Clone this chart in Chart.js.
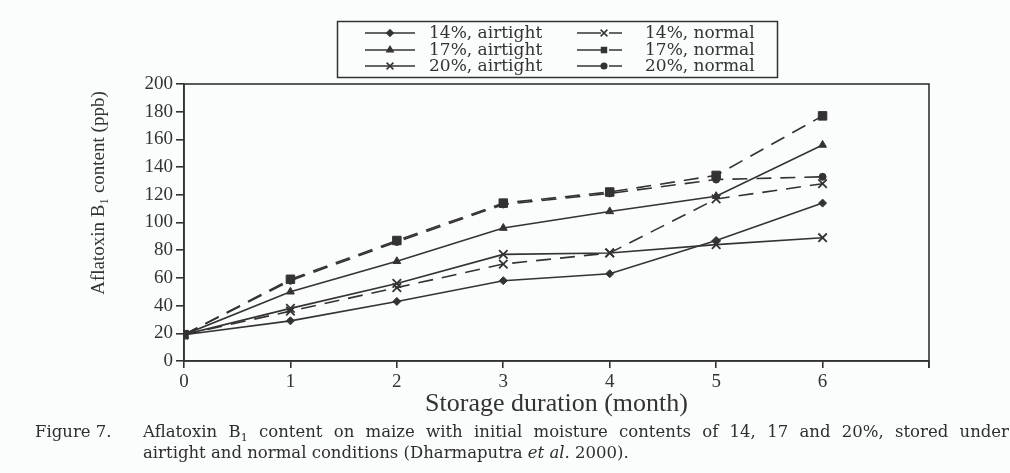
<!DOCTYPE html>
<html>
<head>
<meta charset="utf-8">
<script src="https://cdn.jsdelivr.net/npm/chart.js@4"></script>
<style>
  html, body { margin: 0; padding: 0; background: #fbfcfc; }
  #wrap { position: relative; width: 1010px; height: 473px; overflow: hidden; }
  #caption {
    position: absolute; left: 35px; top: 421px; width: 1100px;
    font-family: 'DejaVu Serif', serif; font-size: 16.5px; line-height: 21px; color: #2e2e2e;
    white-space: nowrap;
  }
  #caption .lbl { display: inline-block; width: 108px; }
  #caption .just { display: inline-block; width: 866px; text-align: justify; text-align-last: justify; }
  #caption .l2 { padding-left: 108px; }
  #caption sub { font-size: 11px; vertical-align: baseline; position: relative; top: 4px; line-height: 0; }
</style>
</head>
<body>
<div id="wrap">
  <canvas id="myChart" width="1010" height="473"></canvas>
  <div id="caption">
    <div><span class="lbl">Figure 7.</span><span class="just">Aflatoxin B<sub>1</sub> content on maize with initial moisture contents of 14, 17 and 20%, stored under</span></div>
    <div class="l2">airtight and normal conditions (Dharmaputra <i>et al.</i> 2000).</div>
  </div>
</div>
<script>
const months = [0, 1, 2, 3, 4, 5, 6];
const xTicks = ['0', '1', '2', '3', '4', '5', '6', ''];

const airtight14 = [19, 29, 43, 58, 63, 87, 114];
const airtight17 = [19, 50, 72, 96, 108, 119, 156];
const airtight20 = [19, 38, 56, 77, 78, 84, 89];
const normal14 = [19, 36, 53, 70, 78, 117, 128];
const normal17 = [19, 59, 87, 114, 122, 134, 177];
const normal20 = [19, 58, 86, 113, 121, 131, 133];

const yTitle = 'Aflatoxin B\u2081 content (ppb)';

const ink = '#333333';
const dash = [15, 9];
const serif = "'Liberation Serif', 'Times New Roman', serif";

function series(label, values, style, radius, dashed) {
    return {
        label: label,
        data: values.map((v, i) => ({ x: months[i], y: v })),
        borderColor: ink,
        backgroundColor: ink,
        borderWidth: 1.6,
        borderDash: dashed ? dash : [],
        pointStyle: style,
        pointRadius: radius,
        pointBorderWidth: style === 'crossRot' ? 1.8 : 1,
        pointBackgroundColor: ink,
        pointBorderColor: ink,
        fill: false,
        tension: 0
    };
}

const datasets = [
    series('14%, airtight', airtight14, 'rectRot', 4, false),
    series('17%, airtight', airtight17, 'triangle', 4.5, false),
    series('20%, airtight', airtight20, 'crossRot', 6, false),
    series('14%, normal', normal14, 'crossRot', 6, true),
    series('17%, normal', normal17, 'rect', 6, true),
    series('20%, normal', normal20, 'circle', 3.5, true)
];

// frame around the plot, y title (sits above centre in the original), two column legend box
const framePlugin = {
    id: 'frame',
    afterDraw(chart) {
        const ctx = chart.ctx;
        const a = chart.chartArea;
        ctx.save();
        ctx.strokeStyle = ink;
        ctx.lineWidth = 1.6;
        ctx.strokeRect(a.left, a.top, a.right - a.left, a.bottom - a.top);
        // tick at the right end of the x axis
        ctx.beginPath();
        ctx.moveTo(a.right, a.bottom);
        ctx.lineTo(a.right, a.bottom + 7);
        ctx.stroke();

        // y axis title
        ctx.save();
        ctx.translate(99, 193);
        ctx.rotate(-Math.PI / 2);
        ctx.font = '19px ' + serif;
        ctx.fillStyle = ink;
        ctx.textAlign = 'center';
        ctx.textBaseline = 'middle';
        ctx.fillText(yTitle, 0, 0);
        ctx.restore();

        // legend
        ctx.lineWidth = 1.5;
        ctx.strokeRect(337.5, 21.5, 440, 56);
        ctx.font = "17px 'DejaVu Serif', serif";
        ctx.fillStyle = ink;
        ctx.textBaseline = 'middle';
        const rows = [33, 50, 66];
        chart.data.datasets.forEach((ds, i) => {
            const col = Math.floor(i / 3);
            const y = rows[i % 3];
            const x0 = col === 0 ? 365 : 577;
            const x1 = col === 0 ? 415 : 622;
            const mx = col === 0 ? 390 : 604;
            ctx.save();
            ctx.strokeStyle = ink;
            ctx.lineWidth = 1.5;
            ctx.setLineDash(col === 0 ? [] : [24, 8]);
            ctx.beginPath();
            ctx.moveTo(x0, y);
            ctx.lineTo(x1, y);
            ctx.stroke();
            ctx.setLineDash([]);
            ctx.fillStyle = ink;
            Chart.helpers.drawPoint(ctx, {
                pointStyle: ds.pointStyle,
                radius: ds.pointStyle === 'rect' ? 3.5 : ds.pointRadius * 0.8,
                rotation: 0,
                borderWidth: ds.pointBorderWidth
            }, mx, y);
            ctx.restore();
            ctx.fillText(ds.label, col === 0 ? 429 : 645, y + 1);
        });
        ctx.restore();
    }
};

const config = {
    type: 'line',
    data: { datasets: datasets },
    options: {
        responsive: false,
        animation: false,
        layout: {
            padding: { left: 87, top: 84, right: 81, bottom: 52 }
        },
        plugins: {
            legend: { display: false },
            tooltip: { enabled: false }
        },
        scales: {
            x: {
                type: 'linear',
                min: 0,
                max: 7,
                afterFit: (scale) => { scale.height = 60; },
                border: { color: ink, width: 1.6 },
                grid: {
                    drawOnChartArea: false,
                    drawTicks: true,
                    tickLength: 7,
                    color: ink,
                    lineWidth: 1.6
                },
                ticks: {
                    stepSize: 1,
                    padding: 3,
                    color: ink,
                    maxRotation: 0,
                    font: { family: serif, size: 19 },
                    callback: function (value) {
                        return xTicks[value];
                    }
                },
                title: {
                    display: true,
                    text: 'Storage duration (month)',
                    color: ink,
                    font: { family: serif, size: 26 },
                    padding: { top: 0, bottom: 1 }
                }
            },
            y: {
                min: 0,
                max: 200,
                afterFit: (scale) => { scale.width = 97; },
                border: { color: ink, width: 1.6 },
                grid: {
                    drawOnChartArea: false,
                    drawTicks: true,
                    tickLength: 8,
                    color: ink,
                    lineWidth: 1.6
                },
                ticks: {
                    stepSize: 20,
                    padding: 3,
                    color: ink,
                    font: { family: serif, size: 19 }
                }
            }
        }
    },
    plugins: [framePlugin]
};

const myChart = new Chart(document.getElementById('myChart'), config);
</script>
</body>
</html>
